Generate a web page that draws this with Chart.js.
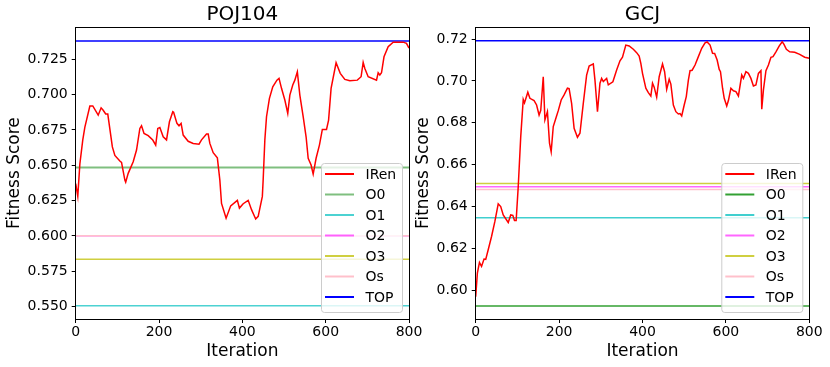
<!DOCTYPE html>
<html>
<head>
<meta charset="utf-8">
<script src="https://cdn.jsdelivr.net/npm/chart.js@4.4.1/dist/chart.umd.min.js"></script>
<style>
html, body { margin: 0; padding: 0; background: #fff; }
#wrap { position: relative; width: 830px; height: 367px; overflow: hidden; }
canvas { position: absolute; top: 0; }
#c-poj { left: 0; }
#c-gcj { left: 415px; }
</style>
</head>
<body>
<div id="wrap">
  <canvas id="c-poj" width="432" height="367"></canvas>
  <canvas id="c-gcj" width="415" height="367"></canvas>
</div>
<script>
const FONT = 'DejaVu Sans';

// baselines shared by both panels
const refNames = ['O0', 'O1', 'O2', 'O3', 'Os', 'TOP'];
const iterTicks = [0, 200, 400, 600, 800];

// POJ104
const pojIter = [0, 5, 10, 17, 22, 34, 41, 54, 61, 66, 72, 77, 88, 94, 106, 110, 118, 120, 126, 138,
  146, 154, 158, 164, 174, 185, 192, 197, 202, 210, 218, 225, 233, 235, 243, 248, 253, 258, 270, 282,
  296, 302, 314, 318, 322, 330, 340, 346, 350, 361, 372, 388, 393, 402, 414, 422, 432, 438, 448, 450,
  454, 458, 465, 473, 483, 488, 494, 502, 509, 514, 521, 526, 532, 538, 546, 553, 558, 565, 570, 577,
  585, 592, 602, 607, 613, 625, 635, 646, 658, 676, 685, 690, 694, 702, 722, 726, 730, 734, 740, 750,
  762, 786, 794, 800];
const pojScore = [0.637, 0.628, 0.651, 0.668, 0.677, 0.692, 0.692, 0.6855, 0.6907, 0.689, 0.6863, 0.6863,
  0.663, 0.657, 0.653, 0.652, 0.6395, 0.638, 0.6443, 0.6525, 0.6608, 0.6761, 0.678, 0.6726, 0.671,
  0.6679, 0.6643, 0.6761, 0.6768, 0.6702, 0.668, 0.6808, 0.6879, 0.6875, 0.6797, 0.678, 0.6797, 0.6714,
  0.667, 0.6655, 0.665, 0.668, 0.6721, 0.6721, 0.6655, 0.6589, 0.6553, 0.6395, 0.623, 0.6126, 0.6213,
  0.6252, 0.6197, 0.6228, 0.6252, 0.6186, 0.612, 0.6139, 0.628, 0.640, 0.668, 0.6844, 0.6974, 0.7056,
  0.7103, 0.7115, 0.7045, 0.6962, 0.6868, 0.6997, 0.7068, 0.7103, 0.7162, 0.6997, 0.6844, 0.6702, 0.655,
  0.6502, 0.6438, 0.655, 0.6643, 0.6754, 0.6754, 0.682, 0.7045, 0.7226, 0.7151, 0.7108, 0.7099, 0.7103,
  0.7127, 0.7229, 0.7186, 0.7127, 0.7103, 0.7155, 0.7139, 0.7155, 0.7268, 0.7339, 0.7372, 0.7372, 0.7363,
  0.733];
const pojRefs = [0.6485, 0.5505, 0.6002, 0.5835, 0.6002, 0.738];
const pojTicks = [0.550, 0.575, 0.600, 0.625, 0.650, 0.675, 0.700, 0.725];

// GCJ
const gcjIter = [0, 4, 9, 14, 20, 24, 30, 38, 46, 54, 60, 66, 78, 84, 89, 93, 97, 102, 108, 114,
  117, 125, 130, 140, 146, 152, 156, 162, 166, 172, 177, 181, 186, 193, 198, 205, 212, 220, 224, 230,
  236, 244, 250, 258, 266, 272, 282, 286, 292, 298, 302, 306, 314, 318, 329, 338, 346, 352, 360, 368,
  378, 386, 392, 396, 400, 408, 414, 420, 424, 428, 434, 440, 448, 453, 458, 464, 468, 474, 480, 486,
  490, 494, 500, 505, 510, 514, 519, 526, 534, 542, 550, 555, 562, 568, 573, 579, 584, 587, 592, 596,
  602, 606, 612, 618, 624, 630, 638, 642, 648, 654, 660, 666, 672, 678, 684, 686, 690, 696, 702, 708,
  713, 720, 728, 735, 739, 745, 753, 765, 777, 789, 800];
const gcjScore = [0.597, 0.6082, 0.6133, 0.6114, 0.6149, 0.6148, 0.6194, 0.6257, 0.6329, 0.6413,
  0.64, 0.636, 0.6324, 0.636, 0.6358, 0.6333, 0.6333, 0.6495, 0.6734, 0.6912, 0.6895, 0.6946, 0.6917,
  0.6906, 0.6885, 0.6837, 0.686, 0.702, 0.6814, 0.6853, 0.6703, 0.6662, 0.6782, 0.6826, 0.6858, 0.6909,
  0.6933, 0.6965, 0.6963, 0.6893, 0.6774, 0.6731, 0.675, 0.6893, 0.7028, 0.7071, 0.7081, 0.7004, 0.6853,
  0.6989, 0.7012, 0.6997, 0.7012, 0.6981, 0.6996, 0.7052, 0.7096, 0.7113, 0.7171, 0.7167, 0.7151, 0.7135,
  0.7119, 0.7084, 0.7036, 0.6965, 0.6944, 0.6928, 0.6989, 0.697, 0.6922, 0.702, 0.7081, 0.7044, 0.696,
  0.7008, 0.6985, 0.6885, 0.6853, 0.6842, 0.6844, 0.6833, 0.6885, 0.6925, 0.7004, 0.7049, 0.7051, 0.7076,
  0.7116, 0.7156, 0.7182, 0.7186, 0.7171, 0.7132, 0.7131, 0.71, 0.7055, 0.7044, 0.6965, 0.6917, 0.688,
  0.6906, 0.6965, 0.6953, 0.6949, 0.6928, 0.7028, 0.7012, 0.7044, 0.7036, 0.7012, 0.6976, 0.6981, 0.7036,
  0.7049, 0.6865, 0.6957, 0.7049, 0.7076, 0.7113, 0.7116, 0.7139, 0.7167, 0.7187, 0.7176, 0.7151, 0.7139,
  0.7137, 0.7127, 0.7113, 0.7108];
const gcjRefs = [0.5925, 0.6347, 0.6494, 0.651, 0.6481, 0.7192];
const gcjTicks = [0.60, 0.62, 0.64, 0.66, 0.68, 0.70, 0.72];

// styling of the baselines (lower order = drawn on top)
const refOrder = [6, 5, 4, 3, 2, 1];
const pojRefColors = ['rgba(0,128,0,0.5)', 'rgba(0,191,191,0.7)', 'rgba(255,0,255,0.6)',
  'rgba(191,191,0,0.75)', '#ffc0cb', '#0000ff'];
const gcjRefColors = ['#33a033', 'rgba(0,191,191,0.75)', 'rgba(255,0,255,0.6)',
  'rgba(191,191,0,0.75)', '#ffc0cb', '#0000ff'];
const pojRefWidths = [2, 1.5, 1.5, 1.5, 1.5, 1.5];
const gcjRefWidths = [1.5, 1.5, 1.5, 1.5, 1.5, 1.5];

const toPoints = (xs, ys) => xs.map((x, i) => ({ x, y: ys[i] }));

// box round the plot (all four spines)
const framePlugin = {
  id: 'frame',
  afterDatasetsDraw(chart) {
    const { ctx, chartArea: a } = chart;
    const l = Math.floor(a.left) + 0.5, t = Math.floor(a.top) + 0.5;
    const r = Math.floor(a.right) + 0.5, b = Math.floor(a.bottom) + 0.5;
    ctx.save();
    ctx.strokeStyle = '#000';
    ctx.lineWidth = 1;
    ctx.strokeRect(l, t, r - l, b - t);
    ctx.restore();
  }
};

// matplotlib-like legend, lower right inside the plot
const boxLegend = {
  id: 'boxLegend',
  afterDraw(chart) {
    const { ctx, chartArea: a } = chart;
    const sets = chart.data.datasets;
    const w = 81, h = 149, rowH = 20.5;
    const x0 = a.right - 7 - w, y0 = a.bottom - 7 - h;
    ctx.save();
    ctx.beginPath();
    ctx.roundRect(x0 + 0.5, y0 + 0.5, w, h, 3);
    ctx.fillStyle = 'rgba(255,255,255,0.8)';
    ctx.fill();
    ctx.strokeStyle = '#cccccc';
    ctx.lineWidth = 1;
    ctx.stroke();
    ctx.font = '14px "' + FONT + '"';
    ctx.textBaseline = 'middle';
    sets.forEach((ds, i) => {
      const y = y0 + 11 + i * rowH;
      ctx.beginPath();
      ctx.moveTo(x0 + 4, y);
      ctx.lineTo(x0 + 33, y);
      ctx.strokeStyle = ds.borderColor;
      ctx.lineWidth = 2;
      ctx.stroke();
      ctx.fillStyle = '#000';
      ctx.fillText(ds.label, x0 + 44.5, y + 1);
    });
    ctx.restore();
  }
};

function makeChart(id, title, iters, scores, refs, colors, widths, yMin, yMax, yTicks, decimals, areaLeft, padRight, yTitlePad) {
  const datasets = [{
    label: 'IRen', data: toPoints(iters, scores),
    borderColor: '#ff0000', borderWidth: 1.5, pointRadius: 0, tension: 0, order: 0
  }];
  refNames.forEach((name, i) => {
    datasets.push({
      label: name, data: [{ x: 0, y: refs[i] }, { x: 800, y: refs[i] }],
      borderColor: colors[i], borderWidth: widths[i], pointRadius: 0, order: refOrder[i]
    });
  });

  const tickFont = { family: FONT, size: 14 };
  return new Chart(document.getElementById(id), {
    type: 'line',
    data: { datasets },
    options: {
      responsive: false,
      animation: false,
      events: [],
      layout: { padding: { left: 0, right: padRight, top: 0, bottom: 0 } },
      plugins: {
        legend: { display: false },
        tooltip: { enabled: false },
        title: {
          display: true, text: title, fullSize: false, color: '#000',
          font: { family: FONT, size: 20, weight: 'normal', lineHeight: 1.2 },
          padding: { top: 3, bottom: 0.3 }
        }
      },
      scales: {
        x: {
          type: 'linear', min: 0, max: 800,
          afterBuildTicks: s => { s.ticks = iterTicks.map(v => ({ value: v })); },
          afterFit: s => { s.height = 48; s.paddingLeft = 0; s.paddingRight = 0; },
          ticks: { color: '#000', font: tickFont, padding: 1, maxRotation: 0, autoSkip: false, callback: v => String(v) },
          grid: { drawOnChartArea: false, drawTicks: true, tickLength: 4, color: '#000' },
          border: { display: false },
          title: {
            display: true, text: 'Iteration', color: '#000',
            font: { family: FONT, size: 17, lineHeight: 1 }, padding: { top: 0, bottom: 7.2 }
          }
        },
        y: {
          type: 'linear', min: yMin, max: yMax,
          afterBuildTicks: s => { s.ticks = yTicks.map(v => ({ value: v })); },
          afterFit: s => { s.width = areaLeft; s.paddingTop = 0; s.paddingBottom = 0; },
          ticks: { color: '#000', font: tickFont, padding: 4, autoSkip: false, callback: v => v.toFixed(decimals) },
          grid: { drawOnChartArea: false, drawTicks: true, tickLength: 4, color: '#000' },
          border: { display: false },
          title: {
            display: true, text: 'Fitness Score', color: '#000',
            font: { family: FONT, size: 17, lineHeight: 1 }, padding: { top: yTitlePad, bottom: 0 }
          }
        }
      }
    },
    plugins: [framePlugin, boxLegend]
  });
}

makeChart('c-poj', 'POJ104', pojIter, pojScore, pojRefs, pojRefColors, pojRefWidths,
  0.5412, 0.7477, pojTicks, 3, 75.7, 432 - 409, 6);
makeChart('c-gcj', 'GCJ', gcjIter, gcjScore, gcjRefs, gcjRefColors, gcjRefWidths,
  0.5863, 0.7256, gcjTicks, 2, 60.7, 415 - 394.3, 0);
</script>
</body>
</html>
